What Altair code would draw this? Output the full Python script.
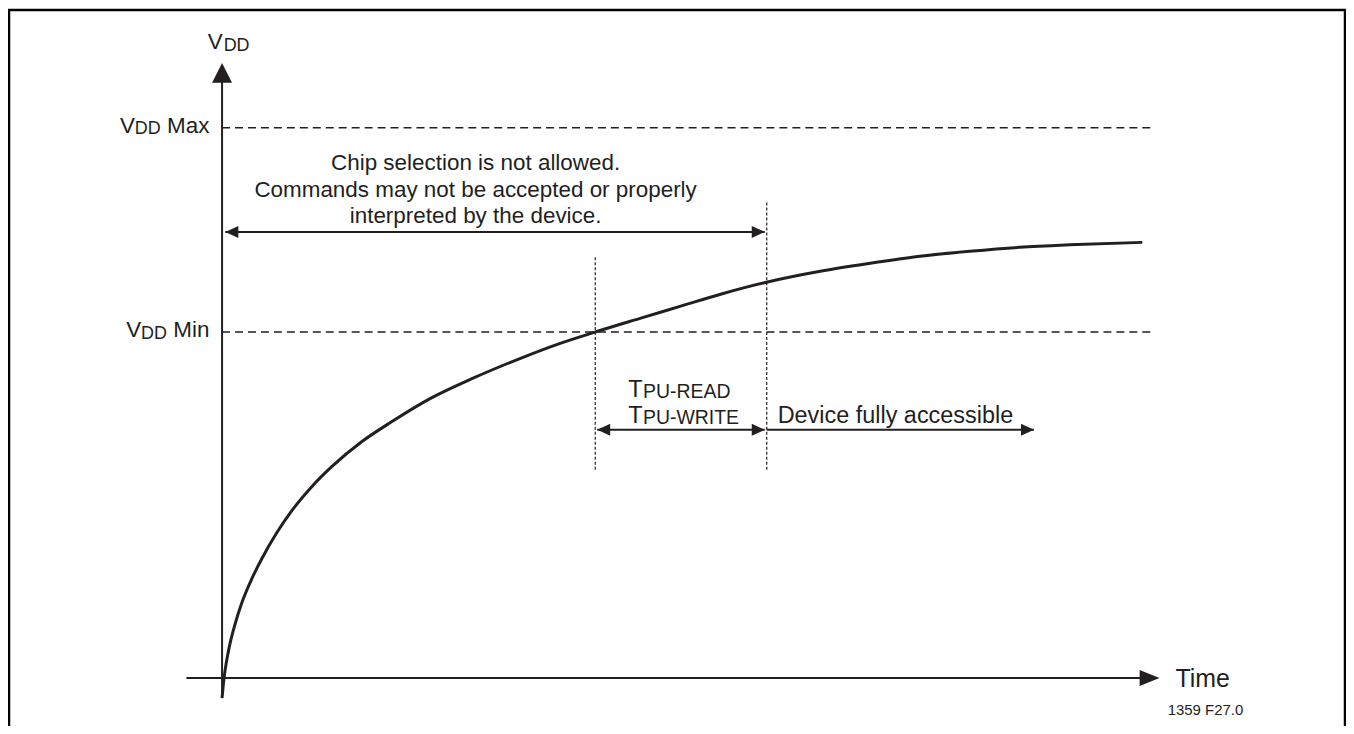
import altair as alt
import pandas as pd

INK = "#231f20"
FONT = "Liberation Sans"
MAIN = 22.5
BIG = 23.5
SUB = 18
TSUB = 19.5

# ---------------- data (diagram units: time t along the time axis, voltage v) ----------------
curve_t = [0, 1, 2, 4, 6, 9, 13, 20, 30, 40, 55, 70, 90, 110, 140, 170, 210, 250, 300, 337,
           374, 420, 460, 500, 546, 600, 650, 700, 750, 800, 850, 923]
curve_v = [-20, -9, 0, 14, 25, 39, 54, 76, 100, 120, 146, 168, 192, 212, 237, 257, 281, 300, 321, 335,
           347, 361, 373, 385, 397, 408, 416, 423, 428, 432, 434.5, 437]

level_names = ["Max", "Min"]
level_v = [552, 347]
level_end_t = 935.3

t_cross = 374.3      # curve reaches VDD Min
t_ready = 546.3      # end of TPU-READ / TPU-WRITE
t_access = 814.3     # end of "device fully accessible" arrow

main_lines = ["Chip selection is not allowed.",
              "Commands may not be accepted or properly",
              "interpreted by the device."]
tpu_subs = ["PU-READ", "PU-WRITE"]

# ---------------- scales ----------------
XS = alt.Scale(domain=[-214.7, 1127.3], nice=False, zero=False)
YS = alt.Scale(domain=[-47, 671], nice=False, zero=False)


def X(f="t"):
    return alt.X(f"{f}:Q", scale=XS, axis=None)


def Y(f="v"):
    return alt.Y(f"{f}:Q", scale=YS, axis=None)


# border
border = alt.Chart(pd.DataFrame({"t": [-213.7], "t2": [1126.3], "v": [670], "v2": [-60]})).mark_rect(
    fillOpacity=0, stroke="#000000", strokeWidth=2.5
).encode(x=X(), x2="t2:Q", y=Y(), y2="v2:Q")

# solid lines: axes and arrow shafts
solid_df = pd.DataFrame({
    "t":  [0, -35.7, 3.3, t_cross + 2, t_ready],
    "t2": [0, 925, t_ready - 2, t_ready - 2, t_access],
    "v":  [-20, 0, 447.5, 249, 249],
    "v2": [600, 0, 447.5, 249, 249],
})
solid = alt.Chart(solid_df).mark_rule(color=INK, strokeWidth=2).encode(
    x=X(), x2="t2:Q", y=Y(), y2="v2:Q")

# dashed level lines
lev_df = pd.DataFrame({"name": level_names, "v": level_v, "t": [0, 0], "t2": [level_end_t] * 2})
dashed = alt.Chart(lev_df).mark_rule(color=INK, strokeWidth=1.5, strokeDash=[8, 5]).encode(
    x=X(), x2="t2:Q", y=Y())

# dotted vertical markers
dot_df = pd.DataFrame({"t": [t_cross, t_ready], "v": [209, 209], "v2": [423, 479]})
dotted = alt.Chart(dot_df).mark_rule(color=INK, strokeWidth=1.2, strokeDash=[3, 2]).encode(
    x=X(), y=Y(), y2="v2:Q")

# curve
curve = alt.Chart(pd.DataFrame({"t": curve_t, "v": curve_v})).mark_line(
    color=INK, strokeWidth=3, interpolate="monotone").encode(x=X(), y=Y(), order="t:Q")

# arrow heads (tip at data point)
heads_df = pd.DataFrame({
    "t": [0, 940.3, 3.3, t_cross + 2, t_ready - 2, t_ready - 2, t_access],
    "v": [617, 0, 447.5, 249, 447.5, 249, 249],
    "kind": ["up_big", "right_big", "left", "left", "right", "right", "right"],
})
shapes = {
    "up_big": ("M0,0L1,2L-1,2Z", 400),
    "right_big": ("M0,0L-2,-0.8L-2,0.8Z", 400),
    "left": ("M0,0L2,-0.923L2,0.923Z", 169),
    "right": ("M0,0L-2,-0.923L-2,0.923Z", 169),
}
head_layers = []
for k, (path, size) in shapes.items():
    head_layers.append(
        alt.Chart(heads_df).transform_filter(alt.datum.kind == k).mark_point(
            shape=path, size=size, filled=True, color=INK, opacity=1, strokeWidth=0
        ).encode(x=X(), y=Y())
    )

# ---------------- text ----------------
W = {"V": 667, "D": 722, "M": 833, "a": 556, "x": 500, "i": 222, "n": 556, " ": 278, "T": 611}


def tw(s, size):
    return sum(W[c] for c in s) * size / 1000.0


def text_layer(rows, align, size):
    return alt.Chart(pd.DataFrame(rows)).mark_text(
        align=align, baseline="alphabetic", font=FONT, fontSize=size, color=INK
    ).encode(x=X(), y=Y(), text="text:N")


label_end = -12.7
lab_main, lab_sub = [], []
for name, lv in zip(level_names, level_v):
    w_word = tw(" " + name, MAIN)
    lab_main.append({"t": label_end, "v": lv - 5, "text": name})
    lab_sub.append({"t": label_end - w_word, "v": lv - 6.5, "text": "DD"})
    lab_main.append({"t": label_end - w_word - tw("DD", SUB), "v": lv - 5, "text": "V"})

t_T = 407.3
layers_text = [
    text_layer(lab_main, "right", MAIN),
    text_layer(lab_sub, "right", SUB),
    text_layer({"t": [254.3] * 3, "v": [510, 483, 456], "text": main_lines}, "center", MAIN),
    text_layer({"t": [-14.4], "v": [630.5], "text": ["V"]}, "left", MAIN),
    text_layer({"t": [-14.4 + tw("V", MAIN) + 1], "v": [629], "text": ["DD"]}, "left", SUB),
    text_layer({"t": [t_T, t_T, 557.3], "v": [282, 256, 256],
                "text": ["T", "T", "Device fully accessible"]}, "left", BIG),
    text_layer({"t": [t_T + tw("T", BIG) + 0.5] * 2, "v": [280.5, 254.5], "text": tpu_subs}, "left", TSUB),
    text_layer({"t": [956.3], "v": [-9], "text": ["Time"]}, "left", 25),
    text_layer({"t": [986.3], "v": [-37], "text": ["1359 F27.0"]}, "center", 15),
]

chart = alt.layer(
    border, dashed, dotted, solid, curve, *head_layers, *layers_text
).properties(
    width=1342, height=718, padding=0, autosize="none", background="white"
).configure_view(strokeWidth=0)

chart.save("out.html", embed_options={"renderer": "svg", "actions": False})
